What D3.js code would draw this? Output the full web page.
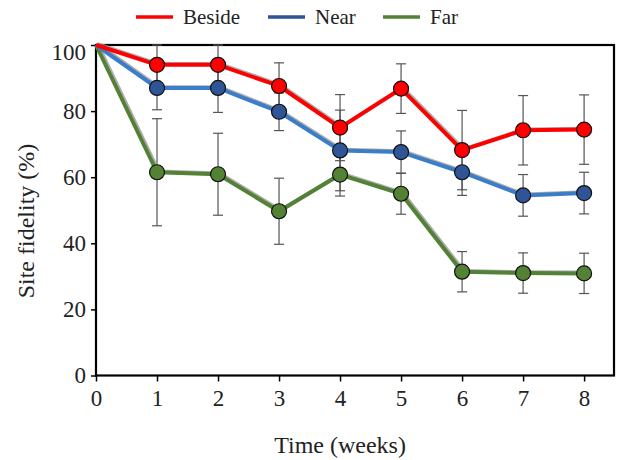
<!DOCTYPE html>
<html>
<head>
<meta charset="utf-8">
<script src="https://cdn.jsdelivr.net/npm/d3@7"></script>
<style>
  body { margin: 0; background: #fff; }
</style>
</head>
<body>
<div id="chart"></div>
<script>
const width = 618;
const height = 460;
const FONT = "'Liberation Serif', 'Times New Roman', Times, serif";

// data
const weeks = [0, 1, 2, 3, 4, 5, 6, 7, 8];
const yTicks = [0, 20, 40, 60, 80, 100];
const seriesNames = ["Beside", "Near", "Far"];

const beside = [100, 94, 94, 87.6, 75, 86.8, 68.2, 74.2, 74.4];
const besideErr = [0, 6, 6, 7, 10, 7.5, 12, 10.5, 10.5];
const near = [100, 87, 87, 79.8, 68.1, 67.6, 61.5, 54.5, 55.2];
const nearErr = [0, 6.6, 7.4, 5.7, 12.2, 6.4, 7, 6.3, 6.3];
const far = [100, 61.5, 60.9, 49.7, 60.8, 55, 31.4, 31, 30.9];
const farErr = [0, 16.2, 12.4, 10, 6.5, 6.2, 6.1, 6.1, 6.1];

const lineColors = { Beside: "#ff0000", Near: "#3b7dc8", Far: "#538135" };
const dotColors = { Beside: "#ff0000", Near: "#2f5597", Far: "#548235" };
const legendColors = { Beside: "#ff0000", Near: "#2f5597", Far: "#548235" };

const series = [
  { name: "Far", values: far, errs: farErr },
  { name: "Near", values: near, errs: nearErr },
  { name: "Beside", values: beside, errs: besideErr }
];

const svg = d3.select("#chart").append("svg")
  .attr("width", width)
  .attr("height", height)
  .attr("font-family", FONT);

const xScale = d3.scaleLinear().domain([0, 8.49]).range([96, 614]);
const yScale = d3.scaleLinear().domain([0, 100]).range([375.5, 45]);

// frame
svg.append("rect")
  .attr("x", xScale(0)).attr("y", yScale(100))
  .attr("width", xScale(8.49) - xScale(0))
  .attr("height", yScale(0) - yScale(100))
  .attr("fill", "none").attr("stroke", "#000").attr("stroke-width", 2.2);

// axes
const yAxis = svg.append("g")
  .attr("transform", "translate(" + xScale(0) + ",0)")
  .call(d3.axisLeft(yScale).tickValues(yTicks).tickSize(5).tickPadding(5));
const xAxis = svg.append("g")
  .attr("transform", "translate(0," + yScale(0) + ")")
  .call(d3.axisBottom(xScale).tickValues(weeks).tickSize(6).tickPadding(8));

[yAxis, xAxis].forEach((g) => {
  g.attr("font-family", FONT).attr("font-size", 23);
  g.select(".domain").remove();
  g.selectAll(".tick line").attr("stroke", "#000").attr("stroke-width", 1.5);
  g.selectAll(".tick text").attr("fill", "#222");
});
yAxis.selectAll(".tick text").filter((d) => d === 100).attr("dy", "0.62em");

// error bars
const capW = 5;
series.forEach((s) => {
  const g = svg.append("g").attr("class", "err");
  weeks.forEach((w, i) => {
    if (!s.errs[i]) return;
    const x = xScale(w);
    const y1 = yScale(s.values[i] + s.errs[i]);
    const y2 = yScale(s.values[i] - s.errs[i]);
    g.append("line").attr("x1", x).attr("x2", x).attr("y1", y1).attr("y2", y2);
    g.append("line").attr("x1", x - capW).attr("x2", x + capW).attr("y1", y1).attr("y2", y1);
    g.append("line").attr("x1", x - capW).attr("x2", x + capW).attr("y1", y2).attr("y2", y2);
  });
  g.selectAll("line").attr("stroke", "#555").attr("stroke-width", 1.2);
});

const line = d3.line()
  .x((d, i) => xScale(weeks[i]))
  .y((d) => yScale(d));

// soft grey shadow under each line, then the line itself
series.forEach((s) => {
  svg.append("path")
    .datum(s.values)
    .attr("d", line)
    .attr("transform", "translate(1.5,-0.8)")
    .attr("fill", "none")
    .attr("stroke", "#999")
    .attr("stroke-opacity", 0.8)
    .attr("stroke-width", 4);
  svg.append("path")
    .datum(s.values)
    .attr("d", line)
    .attr("fill", "none")
    .attr("stroke", lineColors[s.name])
    .attr("stroke-width", 4)
    .attr("stroke-linejoin", "round");
});

series.forEach((s) => {
  svg.append("g")
    .selectAll("circle")
    .data(s.values.slice(1))
    .enter()
    .append("circle")
    .attr("cx", (d, i) => xScale(weeks[i + 1]))
    .attr("cy", (d) => yScale(d))
    .attr("r", 7.5)
    .attr("fill", dotColors[s.name])
    .attr("stroke", "#111")
    .attr("stroke-width", 1.2);
});

// axis titles
svg.append("text")
  .attr("x", (xScale(0) + xScale(8)) / 2)
  .attr("y", 453)
  .attr("text-anchor", "middle")
  .attr("font-size", 24)
  .attr("fill", "#222")
  .text("Time (weeks)");

svg.append("text")
  .attr("transform", "translate(34,221) rotate(-90)")
  .attr("text-anchor", "middle")
  .attr("font-size", 24)
  .attr("fill", "#222")
  .text("Site fidelity (%)");

// legend
const legendX = [136, 268, 383];
const legend = svg.append("g");
seriesNames.forEach((name, i) => {
  legend.append("line")
    .attr("x1", legendX[i]).attr("x2", legendX[i] + 37)
    .attr("y1", 17).attr("y2", 17)
    .attr("stroke", legendColors[name])
    .attr("stroke-width", 3.5);
  legend.append("text")
    .attr("x", legendX[i] + 47)
    .attr("y", 24)
    .attr("font-size", 21)
    .attr("fill", "#222")
    .text(name);
});
</script>
</body>
</html>
